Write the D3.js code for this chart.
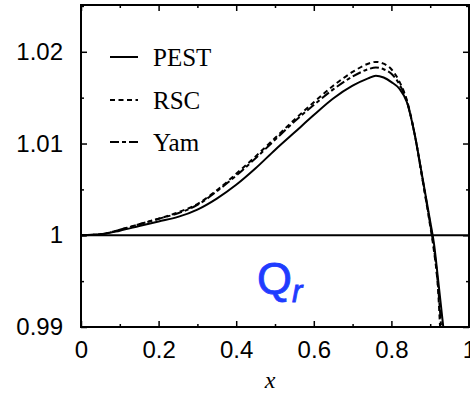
<!DOCTYPE html>
<html>
<head>
<meta charset="utf-8">
<script src="https://cdn.jsdelivr.net/npm/d3@7"></script>
<style>
  body { margin: 0; background: #fff; }
  #chart { width: 470px; height: 395px; }
</style>
</head>
<body>
<div id="chart"></div>
<script>
// data
var xs     = [0, 0.05, 0.1, 0.15, 0.2, 0.25, 0.3, 0.35, 0.4, 0.45, 0.5, 0.55, 0.6, 0.65, 0.7, 0.74, 0.76, 0.78, 0.8, 0.82, 0.84, 0.86, 0.88, 0.9, 0.91, 0.92];
var pest   = [1.0000, 1.0001, 1.0005, 1.0010, 1.0015, 1.0020, 1.0028, 1.0040, 1.0055, 1.0073, 1.0093, 1.0112, 1.0131, 1.0149, 1.0163, 1.0171, 1.0174, 1.0172, 1.0167, 1.0160, 1.0145, 1.0110, 1.0063, 1.0015, 0.9990, 0.9953];
var rsc    = [1.0000, 1.0001, 1.0006, 1.0012, 1.0018, 1.0025, 1.0034, 1.0049, 1.0067, 1.0086, 1.0106, 1.0126, 1.0145, 1.0163, 1.0178, 1.0187, 1.0189, 1.0187, 1.0181, 1.0168, 1.0147, 1.0110, 1.0061, 1.0010, 0.9982, 0.9942];
var yam    = [1.0000, 1.0001, 1.0006, 1.0012, 1.0018, 1.0024, 1.0033, 1.0048, 1.0065, 1.0084, 1.0104, 1.0124, 1.0142, 1.0159, 1.0173, 1.0181, 1.0183, 1.0181, 1.0176, 1.0165, 1.0146, 1.0110, 1.0062, 1.0012, 0.9985, 0.9946];
// last points below the bottom edge (clipped)
var tailX  = {PEST: 0.935, RSC: 0.926, Yam: 0.929};
var tailY  = 0.9895;

var xTicks = [0, 0.2, 0.4, 0.6, 0.8, 1];
var xTickLabels = ["0", "0.2", "0.4", "0.6", "0.8", "1"];
var yTicks = [0.99, 1, 1.01, 1.02];
var yTickLabels = ["0.99", "1", "1.01", "1.02"];

var seriesNames = ["PEST", "RSC", "Yam"];
var seriesDash = ["none", "5,3.5", "9,3,4,3"];

var W = 470, H = 395;
var margin = {top: 5, right: 1, bottom: 68, left: 81},
    width = W - margin.left - margin.right,
    height = H - margin.top - margin.bottom;

var svg = d3.select("#chart")
  .append("svg")
  .attr("width", W)
  .attr("height", H);

var g = svg.append("g")
  .attr("transform", "translate(" + margin.left + "," + margin.top + ")");

var x = d3.scaleLinear().domain([0, 1]).range([0, width]);
var y = d3.scaleLinear().domain([0.99, 1.0251]).range([height, 0]);

g.append("clipPath").attr("id", "clip")
  .append("rect").attr("width", width).attr("height", height);

// ticks (inward, all four sides)
function tickAxis(axis, ticks, size, tr) {
  var a = g.append("g").attr("transform", tr)
    .call(axis.tickValues(ticks).tickSize(size).tickFormat(""));
  a.select(".domain").remove();
  a.selectAll("line").attr("stroke", "#000").attr("stroke-width", 1.5);
}
var xMinor = d3.range(0.1, 1, 0.2);
var yMinor = [0.995, 1.005, 1.015, 1.025];
tickAxis(d3.axisTop(x), xTicks, 6, "translate(0," + height + ")");
tickAxis(d3.axisTop(x), xMinor, 3, "translate(0," + height + ")");
tickAxis(d3.axisBottom(x), xTicks, 6, "translate(0,0)");
tickAxis(d3.axisBottom(x), xMinor, 3, "translate(0,0)");
tickAxis(d3.axisRight(y), yTicks, 6, "translate(0,0)");
tickAxis(d3.axisRight(y), yMinor, 3, "translate(0,0)");
tickAxis(d3.axisLeft(y), yTicks, 6, "translate(" + width + ",0)");
tickAxis(d3.axisLeft(y), yMinor, 3, "translate(" + width + ",0)");

// tick labels
var xl = g.append("g").attr("transform", "translate(0," + height + ")")
  .call(d3.axisBottom(x).tickValues(xTicks).tickSize(0).tickPadding(14)
    .tickFormat(function(d, i) { return xTickLabels[i]; }));
xl.select(".domain").remove();
xl.selectAll("text").attr("font-family", "Liberation Sans, Arial, sans-serif")
  .attr("font-size", 24).attr("fill", "#000").attr("dy", "0.71em");

var yl = g.append("g")
  .call(d3.axisLeft(y).tickValues(yTicks).tickSize(0).tickPadding(18)
    .tickFormat(function(d, i) { return yTickLabels[i]; }));
yl.select(".domain").remove();
yl.selectAll("text").attr("font-family", "Liberation Sans, Arial, sans-serif")
  .attr("font-size", 24).attr("fill", "#000");

// reference line at 1
g.append("line")
  .attr("x1", 0).attr("x2", width)
  .attr("y1", y(1)).attr("y2", y(1))
  .attr("stroke", "#000").attr("stroke-width", 2);

// curves
var allSeries = [pest, rsc, yam];
var line = d3.line()
  .x(function(d) { return x(d[0]); })
  .y(function(d) { return y(d[1]); })
  .curve(d3.curveMonotoneX);

allSeries.forEach(function(vals, k) {
  var pts = xs.map(function(xv, i) { return [xv, vals[i]]; });
  pts.push([tailX[seriesNames[k]], tailY]);
  g.append("path")
    .datum(pts)
    .attr("clip-path", "url(#clip)")
    .attr("fill", "none")
    .attr("stroke", "#000")
    .attr("stroke-width", 2)
    .attr("stroke-dasharray", seriesDash[k])
    .attr("d", line);
});

// frame
g.append("rect")
  .attr("width", width).attr("height", height)
  .attr("fill", "none").attr("stroke", "#000").attr("stroke-width", 2);

// legend
var legY = [57, 100, 142];
seriesNames.forEach(function(name, k) {
  g.append("line")
    .attr("x1", 110 - margin.left).attr("x2", 138 - margin.left)
    .attr("y1", legY[k] - margin.top).attr("y2", legY[k] - margin.top)
    .attr("stroke", "#000").attr("stroke-width", 2)
    .attr("stroke-dasharray", seriesDash[k]);
  g.append("text")
    .attr("x", 153 - margin.left).attr("y", legY[k] - margin.top + 8.5)
    .attr("font-family", "Liberation Serif, Times New Roman, serif")
    .attr("font-size", 25)
    .text(name);
});

// Q_r label
var q = g.append("text")
  .attr("x", 257 - margin.left).attr("y", 294 - margin.top)
  .attr("font-family", "Liberation Sans, Arial, sans-serif")
  .attr("font-size", 45).attr("fill", "#1f3cff")
  .attr("stroke", "#1f3cff").attr("stroke-width", 0.8);
q.append("tspan").text("Q");
q.append("tspan").attr("font-size", 31).attr("font-style", "italic").attr("dy", 8).text("r");

// x axis title
svg.append("text")
  .attr("x", 270).attr("y", 388)
  .attr("text-anchor", "middle")
  .attr("font-family", "Liberation Serif, Times New Roman, serif")
  .attr("font-style", "italic")
  .attr("font-size", 24)
  .text("x");
</script>
</body>
</html>
